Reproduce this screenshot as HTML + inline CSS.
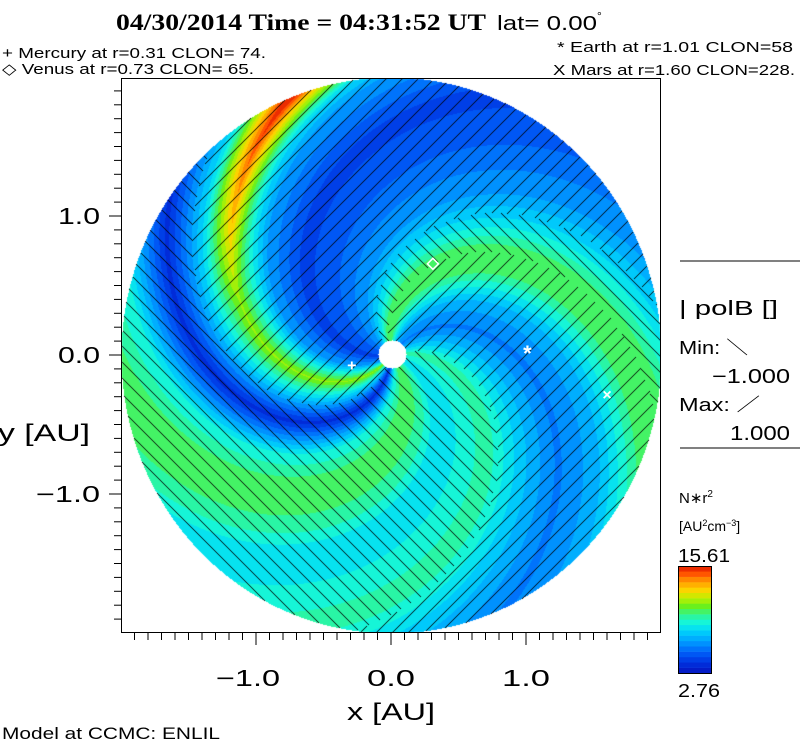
<!DOCTYPE html>
<html><head><meta charset="utf-8"><style>
html,body{margin:0;padding:0;background:#fff;}
#wrap{position:relative;width:800px;height:746px;overflow:hidden;font-family:"Liberation Sans",sans-serif;}
#cv{position:absolute;left:121px;top:78px;}
svg{position:absolute;left:0;top:0;font-family:"Liberation Sans",sans-serif;}
</style></head><body>
<div id="wrap">
<canvas id="cv" width="540" height="555"></canvas>
<svg id="sv" width="800" height="746"></svg>
<svg width="800" height="746" style="position:absolute;left:0;top:0;pointer-events:none" font-family="Liberation Sans, sans-serif">
<text x="116" y="30" font-family="Liberation Serif, serif" font-weight="bold" font-size="23" textLength="370" lengthAdjust="spacingAndGlyphs">04/30/2014 Time = 04:31:52 UT</text>
<text x="497" y="30" font-size="20"><tspan textLength="100" lengthAdjust="spacingAndGlyphs">lat= 0.00</tspan><tspan dy="-10" font-size="12">°</tspan></text>
<text x="2" y="58" font-size="15" textLength="264" lengthAdjust="spacingAndGlyphs">+ Mercury at r=0.31 CLON= 74.</text>
<text x="2" y="74" font-size="15" textLength="252" lengthAdjust="spacingAndGlyphs">◇ Venus at r=0.73 CLON= 65.</text>
<text x="557" y="52" font-size="15" textLength="236" lengthAdjust="spacingAndGlyphs">* Earth at  r=1.01 CLON=58</text>
<text x="553" y="75" font-size="15" textLength="242" lengthAdjust="spacingAndGlyphs">X Mars at r=1.60 CLON=228.</text>
<text x="347" y="720" font-size="24" textLength="88" lengthAdjust="spacingAndGlyphs">x [AU]</text>
<text x="-2" y="441" font-size="24" textLength="92" lengthAdjust="spacingAndGlyphs">y [AU]</text>
<text x="2" y="739" font-size="17" textLength="218" lengthAdjust="spacingAndGlyphs">Model at CCMC: ENLIL</text>
<line x1="680" y1="261" x2="800" y2="261" stroke="#000"/>
<text x="679" y="315" font-size="20" textLength="99" lengthAdjust="spacingAndGlyphs">| polB []</text>
<text x="679" y="354" font-size="18" textLength="69" lengthAdjust="spacingAndGlyphs">Min: ＼</text>
<text x="712" y="383" font-size="20" textLength="78" lengthAdjust="spacingAndGlyphs">−1.000</text>
<text x="679" y="411" font-size="18" textLength="81" lengthAdjust="spacingAndGlyphs">Max: ／</text>
<text x="730" y="440" font-size="20" textLength="60" lengthAdjust="spacingAndGlyphs">1.000</text>
<line x1="680" y1="448" x2="800" y2="448" stroke="#000"/>
<text x="679" y="503" font-size="15">N∗r<tspan dy="-6" font-size="10">2</tspan></text>
<text x="679" y="531" font-size="14">[AU<tspan dy="-5" font-size="9">2</tspan><tspan dy="5">cm</tspan><tspan dy="-5" font-size="9">−3</tspan><tspan dy="5">]</tspan></text>
</svg>
</div>
<script>
// spiral phase (deg) control points and normalized density values
const profilePsi = [0,15,35,55,75,95,110,125,140,165,190,212,232,248,265,285,305,325,340,360];
const profileVal = [0.47,0.53,0.37,0.24,0.33,0.55,0.58,0.42,0.3,0.2,0.13,0.3,0.66,0.38,0.08,0.45,0.6,0.53,0.4,0.47];
// polarity sectors with "/" hatching (phase ranges)
const sectorStart = [108,252];
const sectorEnd = [130,382];
const xTickLabels = ["\u22121.0","0.0","1.0"];
const xTickValues = [-1,0,1];
const yTickLabels = ["1.0","0.0","\u22121.0"];
const yTickValues = [1,0,-1];
const cbMin = 2.76, cbMax = 15.61;
const planetNames = ["mercury","venus","earth","mars"];
const planetX = [-0.29,0.31,1.01,1.60];
const planetY = [-0.07,0.67,0.02,-0.28];
const planetSym = ["+","\u25C7","*","\u00D7"];

const CX=391, CY=355, SX=135, SY=139;
const stops=[[0,[5,20,190]],[0.1,[0,50,225]],[0.2,[0,100,250]],[0.3,[0,160,255]],[0.4,[0,215,250]],[0.47,[20,245,220]],[0.55,[50,245,140]],[0.62,[100,240,30]],[0.7,[190,240,0]],[0.78,[255,210,0]],[0.86,[255,150,0]],[0.93,[255,80,0]],[1,[225,25,0]]];
function cmap(v){
  v=Math.max(0,Math.min(0.999,v));
  v=(Math.floor(v*20)+0.5)/20;
  for(let i=1;i<stops.length;i++){
    if(v<=stops[i][0]){const a=stops[i-1],b=stops[i];const t=(v-a[0])/(b[0]-a[0]);
      return a[1].map((c,k)=>Math.round(c+(b[1][k]-c)*t));}
  }
  return stops[stops.length-1][1];
}
function prof(psi){
  for(let i=1;i<profilePsi.length;i++){
    if(psi<=profilePsi[i]){const t=(psi-profilePsi[i-1])/(profilePsi[i]-profilePsi[i-1]);
      return profileVal[i-1]+(profileVal[i]-profileVal[i-1])*t;}
  }
  return profileVal[0];
}
function slashSector(psi){
  for(let i=0;i<sectorStart.length;i++){
    if((psi>=sectorStart[i]&&psi<sectorEnd[i])||(psi+360>=sectorStart[i]&&psi+360<sectorEnd[i]))return true;
  }
  return false;
}
const cv=document.getElementById('cv');const ctx=cv.getContext('2d');
const img=ctx.createImageData(540,555);
for(let py=0;py<555;py++){for(let px=0;px<540;px++){
  const X=121+px,Y=78+py;const dx=(X-CX)/SX,dy=(CY-Y)/SY;const r=Math.sqrt(dx*dx+dy*dy);
  const idx=(py*540+px)*4;let col=[255,255,255];
  const sd=Math.hypot(X-392,Y-354);
  if(r<=2&&sd>14){
    let th=Math.atan2(dy,dx)*180/Math.PI;if(th<0)th+=360;
    let psi=(th+60*r)%360;
    let v=prof(psi);
    const dp=Math.abs(psi-232);
    if(dp<14&&r>1.2)v+=(r-1.2)*0.45*(1-dp/14);
    col=cmap(v);
    const slash=slashSector(psi);
    const m=slash?(((X-Y)%16)+16)%16:(X+Y)%16;
    if(m===0)col=[0,0,0];
  }
  img.data[idx]=col[0];img.data[idx+1]=col[1];img.data[idx+2]=col[2];img.data[idx+3]=255;
}}
ctx.putImageData(img,0,0);

const NS="http://www.w3.org/2000/svg";const sv=document.getElementById('sv');
function el(tag,attrs,txt){const e=document.createElementNS(NS,tag);for(const k in attrs)e.setAttribute(k,attrs[k]);if(txt!==undefined)e.textContent=txt;sv.appendChild(e);return e;}
function px(x){return CX+x*SX;}function py(y){return CY-y*SY;}
let f=el('rect',{x:121.5,y:78.5,width:539,height:554,fill:'none',stroke:'#000','stroke-width':1});


for(let i=-19;i<=19;i++){
  const major=i%10===0;const x=px(i/10);
  let t=el('line',{x1:x,x2:x,y1:633,y2:major?645:640,stroke:'#000'});
  
  
  const y=py(i/10);
  if(y>78&&y<633){let u=el('line',{x1:121,x2:major?109:114,y1:y,y2:y,stroke:'#000'});
  
  }
}
xTickValues.forEach((v,i)=>{const w=xTickLabels[i].length>3?64:48;
  let t=el('text',{x:px(v)+(xTickLabels[i].length>3?-8:0)-w/2,y:686,'font-size':23,fill:'#000',textLength:w,lengthAdjust:'spacingAndGlyphs'},xTickLabels[i]);
  
  });
yTickValues.forEach((v,i)=>{const w=yTickLabels[i].length>3?64:42;
  let t=el('text',{x:100-w,y:py(v)+8,'font-size':23,fill:'#000',textLength:w,lengthAdjust:'spacingAndGlyphs'},yTickLabels[i]);
  
  });
planetNames.forEach((n,i)=>{
  let t=el('text',{x:px(planetX[i]),y:py(planetY[i])+(planetSym[i]==='*'?9:6),'text-anchor':'middle','font-size':planetSym[i]==='*'?22:16,fill:'#fff','font-weight':'bold'},planetSym[i]);
  
  
});
for(let k=0;k<20;k++){
  const c=cmap((k+0.5)/20);
  let r=el('rect',{x:678,y:673-(k+1)*5.35,width:34,height:5.6,fill:'rgb('+c.join(',')+')'});
  
  
}
let cb=el('rect',{x:678.5,y:566.5,width:33,height:107,fill:'none',stroke:'#000'});


let cmx=el('text',{x:678,y:562,'font-size':18,textLength:52,lengthAdjust:'spacingAndGlyphs'},cbMax.toFixed(2));


let cmn=el('text',{x:678,y:697,'font-size':18,textLength:42,lengthAdjust:'spacingAndGlyphs'},cbMin.toFixed(2));


</script>
</body></html>
